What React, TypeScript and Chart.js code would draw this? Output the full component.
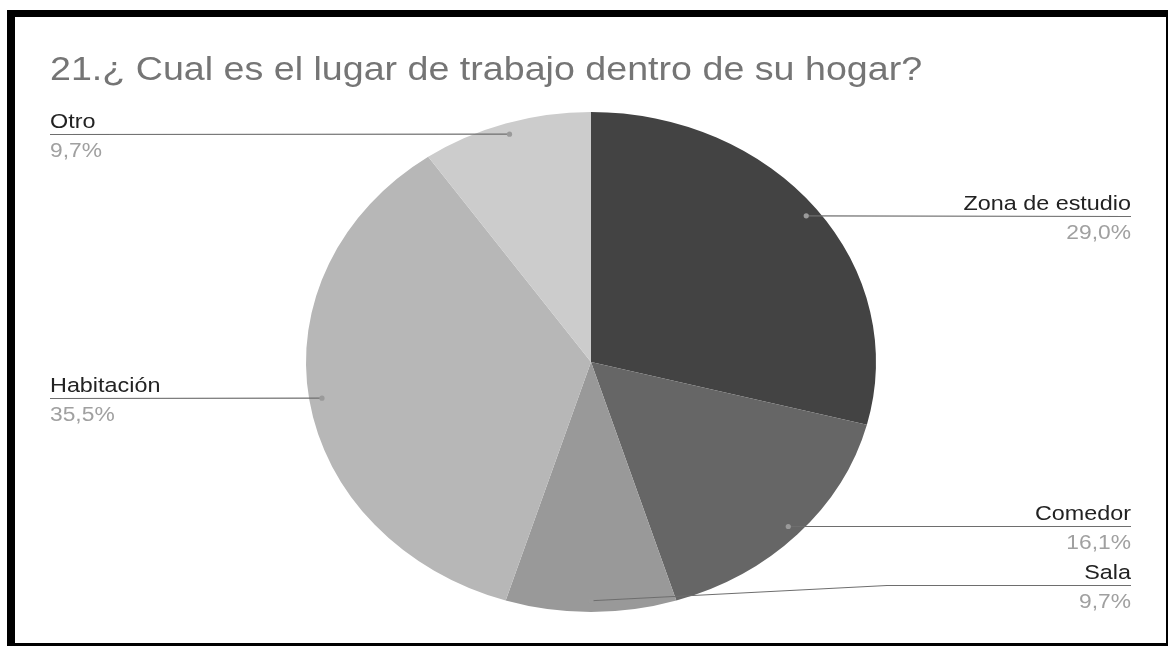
import React, { useEffect, useRef } from "react";
import { Chart, registerables } from "chart.js";

Chart.register(...registerables);

const TITLE = "21.¿ Cual es el lugar de trabajo dentro de su hogar?";
const categories = ["Zona de estudio", "Comedor", "Sala", "Habitación", "Otro"];
const counts = [9, 5, 3, 11, 3];
const sliceColors = ["#434343", "#666666", "#999999", "#b7b7b7", "#cccccc"];

const W = 1168;
const H = 646;
const SX = 1.14; // horizontal stretch of the reference picture
const FONT = '"Liberation Sans", Arial, sans-serif';

function drawText(
  ctx: CanvasRenderingContext2D,
  text: string,
  x: number,
  y: number,
  align: CanvasTextAlign,
  font: string,
  color: string
) {
  ctx.save();
  ctx.translate(x, y);
  ctx.scale(SX, 1);
  ctx.font = font;
  ctx.fillStyle = color;
  ctx.textAlign = align;
  ctx.textBaseline = "alphabetic";
  ctx.fillText(text, 0, 0);
  ctx.restore();
}

export default function App() {
  const ref = useRef<HTMLCanvasElement>(null);

  useEffect(() => {
    const canvas = ref.current;
    if (!canvas) return;

    const stretch = {
      id: "stretch",
      beforeDatasetsDraw(chart: any) {
        const arc = chart.getDatasetMeta(0).data[0];
        const ctx = chart.ctx;
        ctx.save();
        ctx.translate(arc.x, arc.y);
        ctx.scale(SX, 1);
        ctx.translate(-arc.x, -arc.y);
      },
      afterDatasetsDraw(chart: any) {
        chart.ctx.restore();
      },
    };

    const labelsPlugin = {
      id: "pieLabels",
      afterDraw(chart: any) {
        const ctx: CanvasRenderingContext2D = chart.ctx;
        drawText(ctx, TITLE, 50, 80, "left", `33px ${FONT}`, "#757575");
        const total = counts.reduce((a, b) => a + b, 0);
        const meta = chart.getDatasetMeta(0);
        meta.data.forEach((arc: any, i: number) => {
          const { x, y, startAngle, endAngle, outerRadius } = arc.getProps(
            ["x", "y", "startAngle", "endAngle", "outerRadius"],
            true
          );
          const mid = (startAngle + endAngle) / 2;
          const dx = x + Math.cos(mid) * outerRadius * 0.955 * SX;
          const dy = y + Math.sin(mid) * outerRadius * 0.955;
          const right = Math.cos(mid) > -0.01;
          const lineY = Math.round(Math.min(dy, H - 61)) + 0.5;
          ctx.save();
          ctx.strokeStyle = "#6e6e6e";
          ctx.lineWidth = 1.2;
          ctx.beginPath();
          ctx.moveTo(dx, dy);
          if (right) {
            if (Math.abs(lineY - dy) > 2) ctx.lineTo(x + outerRadius * SX + 11, lineY);
            ctx.lineTo(1131, lineY);
          } else {
            if (Math.abs(lineY - dy) > 2) ctx.lineTo(x - outerRadius * SX - 11, lineY);
            ctx.lineTo(50, lineY);
          }
          ctx.stroke();
          ctx.fillStyle = "#9a9a9a";
          ctx.beginPath();
          ctx.arc(dx, dy, 2.6, 0, Math.PI * 2);
          ctx.fill();
          ctx.restore();
          const pct = ((counts[i] / total) * 100).toFixed(1).replace(".", ",") + "%";
          const tx = right ? 1131 : 50;
          const align: CanvasTextAlign = right ? "right" : "left";
          drawText(ctx, categories[i], tx, lineY - 7, align, `20.5px ${FONT}`, "#222222");
          drawText(ctx, pct, tx, lineY + 22, align, `20px ${FONT}`, "#a0a0a0");
        });
      },
    };

    const chart = new Chart(canvas, {
      type: "pie",
      data: {
        labels: categories,
        datasets: [
          {
            data: counts,
            backgroundColor: sliceColors,
            borderWidth: 0,
            clip: false,
          } as any,
        ],
      },
      options: {
        responsive: false,
        animation: false,
        events: [],
        layout: { padding: { top: 112, bottom: 34, left: 341, right: 327 } },
        plugins: {
          legend: { display: false },
          tooltip: { enabled: false },
          title: { display: false },
        },
      },
      plugins: [stretch, labelsPlugin],
    });

    return () => chart.destroy();
  }, []);

  return (
    <div style={{ position: "fixed", left: 0, top: 0, width: W, height: H, background: "#ffffff" }}>
      <div
        style={{
          position: "absolute",
          left: 7,
          top: 10,
          width: W - 7,
          height: H - 10,
          boxSizing: "border-box",
          borderStyle: "solid",
          borderColor: "#000000",
          borderWidth: "7px 2px 3px 8px",
        }}
      />
      <canvas
        ref={ref}
        width={W}
        height={H}
        style={{ position: "absolute", left: 0, top: 0, width: W, height: H }}
      />
    </div>
  );
}
